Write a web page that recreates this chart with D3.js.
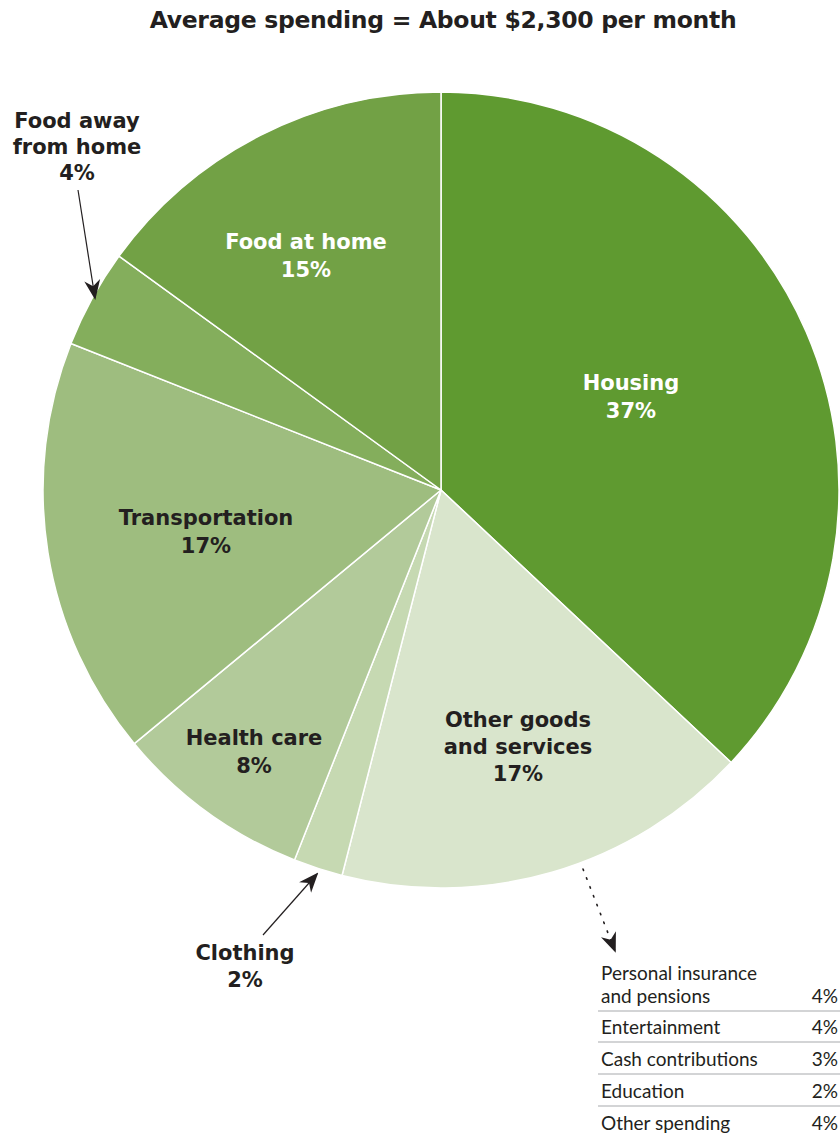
<!DOCTYPE html>
<html>
<head>
<meta charset="utf-8">
<script src="https://cdn.jsdelivr.net/npm/d3@7"></script>
<style>
  html, body { margin: 0; padding: 0; background: #fff; }
  svg { display: block; }
</style>
</head>
<body>
<div id="chart"></div>
<script>
const title = "Average spending = About $2,300 per month";

// slices clockwise from 12 o'clock
const categories = ["Housing", "Other goods and services", "Clothing", "Health care", "Transportation", "Food away from home", "Food at home"];
const shares = [37, 17, 2, 8, 17, 4, 15];
const sliceColors = ["#5f9a30", "#d9e5cc", "#c6d9b2", "#b2ca9a", "#9ebd7f", "#84ae5c", "#72a145"];

// label lines per slice
const labelLines = [
  ["Housing", "37%"],
  ["Other goods", "and services", "17%"],
  ["Clothing", "2%"],
  ["Health care", "8%"],
  ["Transportation", "17%"],
  ["Food away", "from home", "4%"],
  ["Food at home", "15%"]
];

// breakdown of "Other goods and services"
const otherItems = [["Personal insurance", "and pensions"], ["Entertainment"], ["Cash contributions"], ["Education"], ["Other spending"]];
const otherShares = [4, 4, 3, 2, 4];

const width = 840;
const height = 1134;
const cx = 441, cy = 490, radius = 398;

const svg = d3.select("#chart").append("svg")
  .attr("width", width)
  .attr("height", height);

const defs = svg.append("defs");
defs.append("marker")
  .attr("id", "arrow")
  .attr("viewBox", "0 0 10 10")
  .attr("refX", 9).attr("refY", 5)
  .attr("markerWidth", 20).attr("markerHeight", 20)
  .attr("markerUnits", "userSpaceOnUse")
  .attr("orient", "auto")
  .append("path")
  .attr("d", "M0,1 L10,5 L0,9 L3,5 Z")
  .attr("fill", "#231f20");

svg.append("text")
  .attr("x", 443).attr("y", 28)
  .attr("text-anchor", "middle")
  .attr("font-family", "'DejaVu Sans', sans-serif")
  .attr("font-weight", 700)
  .attr("font-size", 23.5)
  .attr("letter-spacing", -0.3)
  .attr("fill", "#231f20")
  .text(title);

const pie = d3.pie().sort(null).value((d) => d);
const arcs = pie(shares);
const arc = d3.arc().innerRadius(0).outerRadius(radius);

const g = svg.append("g").attr("transform", `translate(${cx},${cy})`);

g.selectAll("path.slice")
  .data(arcs)
  .join("path")
  .attr("class", "slice")
  .attr("d", arc)
  .attr("fill", (d, i) => sliceColors[i])
  .attr("stroke", "#fff")
  .attr("stroke-width", 1.5)
  .attr("stroke-linejoin", "round");

// label anchor positions (page coords of first baseline), by slice
const labelPos = [
  { x: 631, y: 390, color: "#fff" },
  { x: 518, y: 727, color: "#231f20" },
  { x: 245, y: 960, color: "#231f20" },
  { x: 254, y: 745, color: "#231f20" },
  { x: 206, y: 525, color: "#231f20" },
  { x: 77, y: 128, color: "#231f20" },
  { x: 306, y: 249, color: "#fff" }
];
const lineGap = [28, 27, 27, 28, 28, 26, 28];

labelLines.forEach((lines, i) => {
  const p = labelPos[i];
  const t = svg.append("text")
    .attr("text-anchor", "middle")
    .attr("font-family", "'DejaVu Sans', sans-serif")
    .attr("font-weight", 700)
    .attr("font-size", 21)
    .attr("fill", p.color);
  lines.forEach((ln, j) => {
    t.append("tspan").attr("x", p.x).attr("y", p.y + j * lineGap[i]).text(ln);
  });
});

// arrows
svg.append("line")
  .attr("x1", 78).attr("y1", 190).attr("x2", 95).attr("y2", 298)
  .attr("stroke", "#231f20").attr("stroke-width", 1.2)
  .attr("marker-end", "url(#arrow)");

svg.append("line")
  .attr("x1", 263).attr("y1", 935).attr("x2", 317).attr("y2", 874)
  .attr("stroke", "#231f20").attr("stroke-width", 1.2)
  .attr("marker-end", "url(#arrow)");

svg.append("line")
  .attr("x1", 583).attr("y1", 869).attr("x2", 615).attr("y2", 951)
  .attr("stroke", "#231f20").attr("stroke-width", 1.6)
  .attr("stroke-dasharray", "1.5 8")
  .attr("stroke-linecap", "round")
  .attr("marker-end", "url(#arrow)");

// breakdown table
const tx0 = 601, tx1 = 838;
const rowBase = [980, 1034, 1066, 1098, 1130];
const tbl = svg.append("g")
  .attr("font-family", "Lato, sans-serif")
  .attr("font-size", 19)
  .attr("fill", "#231f20");

otherItems.forEach((lines, i) => {
  const n = lines.length;
  lines.forEach((ln, j) => {
    tbl.append("text")
      .attr("x", tx0)
      .attr("y", rowBase[i] + j * 23)
      .text(ln);
  });
  tbl.append("text")
    .attr("x", tx1)
    .attr("y", rowBase[i] + (n - 1) * 23)
    .attr("text-anchor", "end")
    .text(otherShares[i] + "%");
  if (i < otherItems.length - 1) {
    const ly = rowBase[i] + (n - 1) * 23 + 8;
    tbl.append("line")
      .attr("x1", tx0 - 3).attr("x2", 840)
      .attr("y1", ly).attr("y2", ly)
      .attr("stroke", "#a7a9ac").attr("stroke-width", 1);
  }
});
</script>
</body>
</html>
